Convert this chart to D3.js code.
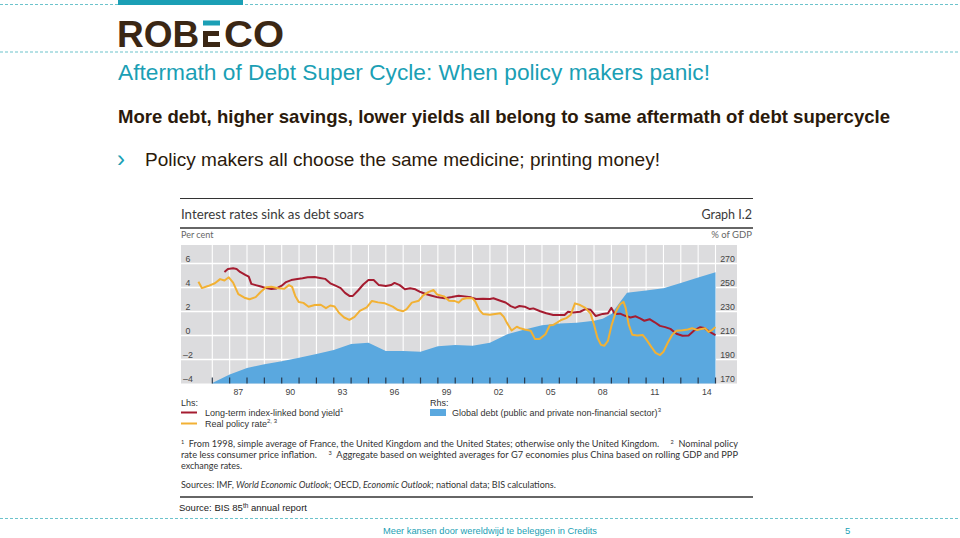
<!DOCTYPE html>
<html><head><meta charset="utf-8">
<script src="https://cdn.jsdelivr.net/npm/d3@7"></script>
<style>body{margin:0;background:#fff}svg{display:block}</style>
</head><body>
<svg id="c" width="960" height="538"></svg>
<script>
// ---------- DATA ----------
// Long-term index-linked bond yield, per cent (lhs)
const bondYield = [
[1986.7,5.3],[1986.9,5.55],[1987.2,5.6],[1987.4,5.55],[1987.6,5.3],[1987.9,5.05],[1988.1,4.9],[1988.25,4.3],
[1988.5,4.2],[1988.8,4.08],[1989.1,3.95],[1989.4,3.88],[1989.7,3.92],[1990.0,4.15],[1990.25,4.45],[1990.55,4.62],
[1990.9,4.7],[1991.2,4.77],[1991.5,4.85],[1991.9,4.87],[1992.2,4.8],[1992.5,4.72],[1992.8,4.35],[1993.1,4.15],
[1993.4,3.95],[1993.65,3.55],[1993.9,3.3],[1994.1,3.3],[1994.4,3.75],[1994.7,4.25],[1995.0,4.62],[1995.3,4.62],
[1995.6,4.2],[1996.0,4.12],[1996.3,4.2],[1996.5,4.38],[1996.8,4.2],[1997.1,3.85],[1997.4,3.93],[1997.7,3.85],
[1998.0,3.62],[1998.3,3.46],[1998.6,3.34],[1999.0,3.18],[1999.4,3.1],[1999.8,3.2],[2000.2,3.32],[2000.55,3.26],
[2000.9,3.18],[2001.2,3.04],[2001.6,3.07],[2002.0,3.05],[2002.2,3.1],[2002.6,2.9],[2002.9,2.75],[2003.2,2.45],
[2003.45,2.3],[2003.7,2.46],[2004.0,2.4],[2004.3,2.2],[2004.5,2.26],[2004.9,2.02],[2005.25,1.85],[2005.65,1.71],
[2006.0,1.7],[2006.3,1.71],[2006.5,1.98],[2006.8,1.92],[2007.2,1.98],[2007.5,2.2],[2007.8,2.14],[2008.1,1.62],
[2008.5,1.8],[2008.8,1.85],[2009.0,2.3],[2009.2,1.79],[2009.5,1.82],[2009.8,1.64],[2010.1,1.5],[2010.4,1.6],
[2010.65,1.42],[2010.9,1.23],[2011.2,1.36],[2011.5,1.1],[2011.8,0.8],[2012.1,0.7],[2012.4,0.55],[2012.75,0.15],
[2013.1,-0.02],[2013.45,0.0],[2013.8,0.45],[2014.1,0.68],[2014.35,0.62],[2014.65,0.32],[2015.0,0.04]
];
// Real policy rate, per cent (lhs)
const policyRate = [
[1985.2,4.48],[1985.4,3.95],[1985.75,4.12],[1986.15,4.35],[1986.45,4.7],[1986.7,4.58],[1986.95,4.85],[1987.2,4.4],
[1987.5,3.45],[1987.85,3.15],[1988.15,3.02],[1988.5,3.2],[1988.8,3.65],[1989.1,4.02],[1989.4,4.07],[1989.8,3.93],
[1990.15,3.9],[1990.42,4.2],[1990.6,4.05],[1990.78,3.3],[1990.98,2.8],[1991.25,2.72],[1991.55,2.4],[1991.9,2.54],
[1992.25,2.56],[1992.55,2.28],[1992.8,2.5],[1993.05,2.42],[1993.3,1.9],[1993.6,1.5],[1993.9,1.3],[1994.2,1.55],
[1994.5,2.05],[1994.9,2.35],[1995.2,2.88],[1995.55,2.76],[1995.95,2.68],[1996.4,2.4],[1996.7,2.12],[1997.0,2.02],
[1997.2,2.2],[1997.5,2.74],[1997.9,2.9],[1998.15,3.35],[1998.45,3.62],[1998.75,3.79],[1998.95,3.42],[1999.35,3.26],
[1999.65,2.9],[1999.95,2.88],[2000.2,2.74],[2000.4,3.02],[2000.7,3.12],[2001.0,3.1],[2001.15,2.85],[2001.4,2.1],
[2001.6,1.8],[2002.0,1.72],[2002.3,1.79],[2002.6,1.85],[2002.8,1.55],[2002.98,1.05],[2003.25,0.42],[2003.55,0.73],
[2003.75,0.6],[2004.0,0.5],[2004.35,0.4],[2004.6,-0.3],[2004.85,-0.3],[2005.2,0.1],[2005.45,0.85],[2005.65,0.88],
[2005.85,1.05],[2006.1,1.29],[2006.4,1.45],[2006.65,1.71],[2006.9,2.68],[2007.2,2.54],[2007.5,2.3],[2007.8,1.82],
[2008.0,0.9],[2008.2,-0.2],[2008.4,-0.78],[2008.6,-0.85],[2008.8,-0.45],[2009.0,0.8],[2009.25,1.95],[2009.5,2.6],
[2009.7,2.8],[2009.82,2.3],[2010.0,0.9],[2010.2,0.07],[2010.5,0.0],[2010.8,0.05],[2011.0,-0.3],[2011.3,-0.95],
[2011.55,-1.45],[2011.8,-1.63],[2012.0,-1.35],[2012.25,-0.6],[2012.5,0.05],[2012.75,0.4],[2013.1,0.43],[2013.4,0.5],
[2013.65,0.6],[2013.95,0.46],[2014.2,0.55],[2014.4,0.6],[2014.6,0.3],[2014.8,0.45],[2015.0,0.7]
];
// Global debt (public and private non-financial sector), % of GDP (rhs)
const globalDebt = [
[1986.0,170.5],[1987.0,177.5],[1988.0,183],[1989.0,186],[1990.0,188.5],[1991.0,191.5],[1992.0,194.5],[1993.0,198],
[1994.0,203],[1995.0,204],[1996.0,197],[1997.0,197],[1998.0,196.5],[1999.0,201],[2000.0,202],[2001.0,201.5],
[2002.0,204],[2003.0,211],[2004.0,215],[2005.0,218.5],[2006.0,220],[2007.0,220.7],[2008.0,222.3],[2008.5,224],
[2009.0,228],[2009.5,238],[2009.9,245.7],[2011.0,247.5],[2012.0,249.3],[2013.0,253.8],[2014.0,258.3],[2015.0,262.7]
];
const xTickYears = [1986,1987,1988,1989,1990,1991,1992,1993,1994,1995,1996,1997,1998,1999,2000,2001,2002,2003,2004,2005,2006,2007,2008,2009,2010,2011,2012,2013,2014,2015];
const xLabelYears = [1987,1990,1993,1996,1999,2002,2005,2008,2011,2014];
const xLabels = ["87","90","93","96","99","02","05","08","11","14"];
const leftTicks = [-4,-2,0,2,4,6];
const leftLabels = ["\u20134","\u20132","0","2","4","6"];
const rightTicks = [170,190,210,230,250,270];

// ---------- DRAWING ----------
const svg = d3.select("#c");
const TEAL = "#1b9fb5", BROWN = "#3b2714";
const SANS = "'Liberation Sans', Arial, sans-serif";
const HUM = "Lato, 'Open Sans', sans-serif";

// header decoration
svg.append("line").attr("x1",0).attr("x2",960).attr("y1",4.5).attr("y2",4.5)
  .attr("stroke","#6cc3cc").attr("stroke-width",1.2).attr("stroke-dasharray","3,2");
svg.append("rect").attr("x",118).attr("y",0).attr("width",125).attr("height",5).attr("fill",TEAL);
svg.append("line").attr("x1",0).attr("x2",960).attr("y1",52).attr("y2",52)
  .attr("stroke","#6cc3cc").attr("stroke-width",1.2).attr("stroke-dasharray","3,2");

// logo
const logo = svg.append("g").attr("font-family",SANS).attr("font-weight","bold").attr("font-size",37).attr("fill",BROWN);
logo.append("text").attr("x",117).attr("y",47).text("ROB");
logo.append("rect").attr("x",203).attr("y",20.5).attr("width",17).attr("height",5).attr("fill",TEAL);
logo.append("rect").attr("x",203).attr("y",31).attr("width",16).attr("height",5);
logo.append("rect").attr("x",203).attr("y",42).attr("width",17).attr("height",5);
logo.append("rect").attr("x",203).attr("y",31).attr("width",5).attr("height",16);
logo.append("text").attr("x",224).attr("y",47).attr("textLength",60).attr("lengthAdjust","spacingAndGlyphs").text("CO");

// slide texts
svg.append("text").attr("x",118).attr("y",80).attr("font-family",SANS).attr("font-size",22)
  .attr("fill",TEAL).attr("textLength",592).attr("lengthAdjust","spacingAndGlyphs")
  .text("Aftermath of Debt Super Cycle: When policy makers panic!");
svg.append("text").attr("x",118).attr("y",123).attr("font-family",SANS).attr("font-size",18.5).attr("font-weight","bold")
  .attr("fill","#2b1a0b").attr("textLength",772).attr("lengthAdjust","spacingAndGlyphs")
  .text("More debt, higher savings, lower yields all belong to same aftermath of debt supercycle");
svg.append("text").attr("x",117).attr("y",167).attr("font-family",SANS).attr("font-size",24).attr("fill",TEAL).text("\u203A");
svg.append("text").attr("x",145).attr("y",166).attr("font-family",SANS).attr("font-size",19)
  .attr("fill","#2b1a0b").attr("textLength",515).attr("lengthAdjust","spacingAndGlyphs")
  .text("Policy makers all choose the same medicine; printing money!");

// chart header
svg.append("line").attr("x1",180).attr("x2",753).attr("y1",198.5).attr("y2",198.5).attr("stroke","#333").attr("stroke-width",1.2);
svg.append("text").attr("x",181).attr("y",218.5).attr("font-family",HUM).attr("font-size",14).attr("fill","#3a3a3a")
  .attr("textLength",183).attr("lengthAdjust","spacingAndGlyphs").text("Interest rates sink as debt soars");
svg.append("text").attr("x",752).attr("y",218.5).attr("text-anchor","end").attr("font-family",HUM).attr("font-size",12.5).attr("fill","#3a3a3a").text("Graph I.2");
svg.append("line").attr("x1",180).attr("x2",753).attr("y1",228).attr("y2",228).attr("stroke","#333").attr("stroke-width",1.5);
svg.append("text").attr("x",181).attr("y",237.5).attr("font-family",HUM).attr("font-size",9).attr("fill","#666").text("Per cent");
svg.append("text").attr("x",752).attr("y",237.5).attr("text-anchor","end").attr("font-family",HUM).attr("font-size",9.5).attr("fill","#666").text("% of GDP");

// scales
const x = d3.scaleLinear().domain([1986, 2015]).range([212.3, 715.5]);
const yL = d3.scaleLinear().domain([-4, 6]).range([383.5, 263.5]);
const yR = d3.scaleLinear().domain([170, 270]).range([383.5, 263.5]);
const P = {x0:181, x1:737, y0:245, y1:383.5};

svg.append("rect").attr("x",P.x0).attr("y",P.y0).attr("width",P.x1-P.x0).attr("height",P.y1-P.y0).attr("fill","#dcdcde");
svg.append("g").selectAll("line").data(leftTicks.filter(t=>t>-4)).join("line")
  .attr("x1",P.x0).attr("x2",P.x1).attr("y1",d=>yL(d)).attr("y2",d=>yL(d))
  .attr("stroke","#fff").attr("stroke-width",1.6);
svg.append("g").selectAll("line").data(xTickYears).join("line")
  .attr("x1",d=>x(d)).attr("x2",d=>x(d)).attr("y1",P.y0).attr("y2",P.y1)
  .attr("stroke","#fff").attr("stroke-width",1.1);

// debt area
svg.append("path").datum(globalDebt)
  .attr("d", d3.area().x(d=>x(d[0])).y0(yR(170)).y1(d=>yR(d[1])))
  .attr("fill","#5aa8df");

// ticks at bottom
svg.append("g").selectAll("line").data(xTickYears).join("line")
  .attr("x1",d=>x(d)).attr("x2",d=>x(d)).attr("y1",P.y1).attr("y2",P.y1-6)
  .attr("stroke","#2b3a4d").attr("stroke-width",1.2);

// axis labels
svg.append("g").selectAll("text").data(leftTicks).join("text")
  .attr("x",188).attr("y",d=>yL(d)-1.5).attr("text-anchor","middle")
  .attr("font-family",SANS).attr("font-size",8.8).attr("fill","#444")
  .text((d,i)=>leftLabels[i]);
svg.append("g").selectAll("text").data(rightTicks).join("text")
  .attr("x",727.5).attr("y",d=>yR(d)-1.5).attr("text-anchor","middle")
  .attr("font-family",SANS).attr("font-size",8.8).attr("fill","#444")
  .text(d=>d);
svg.append("g").selectAll("text").data(xLabelYears).join("text")
  .attr("x",d=>x(d+0.5)).attr("y",395).attr("text-anchor","middle")
  .attr("font-family",SANS).attr("font-size",8.8).attr("fill","#444")
  .text((d,i)=>xLabels[i]);

// lines
const lineL = d3.line().x(d=>x(d[0])).y(d=>yL(d[1]));
svg.append("path").datum(bondYield).attr("d",lineL).attr("fill","none")
  .attr("stroke","#a51c30").attr("stroke-width",2).attr("stroke-linejoin","round");
svg.append("path").datum(policyRate).attr("d",lineL).attr("fill","none")
  .attr("stroke","#f2b134").attr("stroke-width",2).attr("stroke-linejoin","round");

// legend
const lg = svg.append("g").attr("font-family",SANS).attr("font-size",9).attr("fill","#333");
lg.append("text").attr("x",181).attr("y",406).text("Lhs:");
lg.append("line").attr("x1",181).attr("x2",197).attr("y1",412.5).attr("y2",412.5).attr("stroke","#a51c30").attr("stroke-width",2);
const t1 = lg.append("text").attr("x",205).attr("y",415.5);
t1.append("tspan").text("Long-term index-linked bond yield");
t1.append("tspan").attr("dy",-3.5).attr("font-size",6).text("1");
lg.append("line").attr("x1",181).attr("x2",197).attr("y1",423.5).attr("y2",423.5).attr("stroke","#f2b134").attr("stroke-width",2);
const t2 = lg.append("text").attr("x",205).attr("y",426.5);
t2.append("tspan").text("Real policy rate");
t2.append("tspan").attr("dy",-3.5).attr("font-size",6).text("2, 3");
lg.append("text").attr("x",430).attr("y",406).text("Rhs:");
lg.append("rect").attr("x",430).attr("y",409).attr("width",16).attr("height",7).attr("fill","#5aa8df");
const t3 = lg.append("text").attr("x",452).attr("y",415.5);
t3.append("tspan").text("Global debt (public and private non-financial sector)");
t3.append("tspan").attr("dy",-3.5).attr("font-size",6).text("3");

// footnotes
const fn = svg.append("g").attr("font-family",HUM).attr("font-size",9).attr("fill","#333");
const f1 = fn.append("text").attr("x",181).attr("y",447).attr("textLength",557).attr("lengthAdjust","spacingAndGlyphs");
f1.append("tspan").attr("font-size",5.5).attr("dy",-3).text("1");
f1.append("tspan").attr("dy",3).text("\u2002From 1998, simple average of France, the United Kingdom and the United States; otherwise only the United Kingdom.\u2003\u2002");
f1.append("tspan").attr("font-size",5.5).attr("dy",-3).text("2");
f1.append("tspan").attr("dy",3).text("\u2002Nominal policy");
const f2 = fn.append("text").attr("x",181).attr("y",458).attr("textLength",557).attr("lengthAdjust","spacingAndGlyphs");
f2.append("tspan").text("rate less consumer price inflation.\u2003\u2002");
f2.append("tspan").attr("font-size",5.5).attr("dy",-3).text("3");
f2.append("tspan").attr("dy",3).text("\u2002Aggregate based on weighted averages for G7 economies plus China based on rolling GDP and PPP");
fn.append("text").attr("x",181).attr("y",469).text("exchange rates.");
const f4 = fn.append("text").attr("x",181).attr("y",488);
f4.append("tspan").text("Sources: IMF, ");
f4.append("tspan").attr("font-style","italic").text("World Economic Outlook");
f4.append("tspan").text("; OECD, ");
f4.append("tspan").attr("font-style","italic").text("Economic Outlook");
f4.append("tspan").text("; national data; BIS calculations.");
svg.append("line").attr("x1",180).attr("x2",753).attr("y1",497).attr("y2",497).attr("stroke","#333").attr("stroke-width",1.5);

// source
const src = svg.append("text").attr("x",179).attr("y",511).attr("font-family",SANS).attr("font-size",9.5).attr("fill","#1a1a1a");
src.append("tspan").text("Source: BIS 85");
src.append("tspan").attr("dy",-3.5).attr("font-size",6.5).text("th");
src.append("tspan").attr("dy",3.5).text(" annual report");

// footer
svg.append("line").attr("x1",0).attr("x2",960).attr("y1",518.5).attr("y2",518.5)
  .attr("stroke","#6cc3cc").attr("stroke-width",1).attr("stroke-dasharray","3,2");
svg.append("text").attr("x",383).attr("y",534).attr("font-family",SANS).attr("font-size",9.5).attr("fill",TEAL)
  .attr("textLength",214).attr("lengthAdjust","spacingAndGlyphs").text("Meer kansen door wereldwijd te beleggen in Credits");
svg.append("text").attr("x",845).attr("y",534).attr("font-family",SANS).attr("font-size",9.5).attr("fill",TEAL).text("5");
</script>
</body></html>
